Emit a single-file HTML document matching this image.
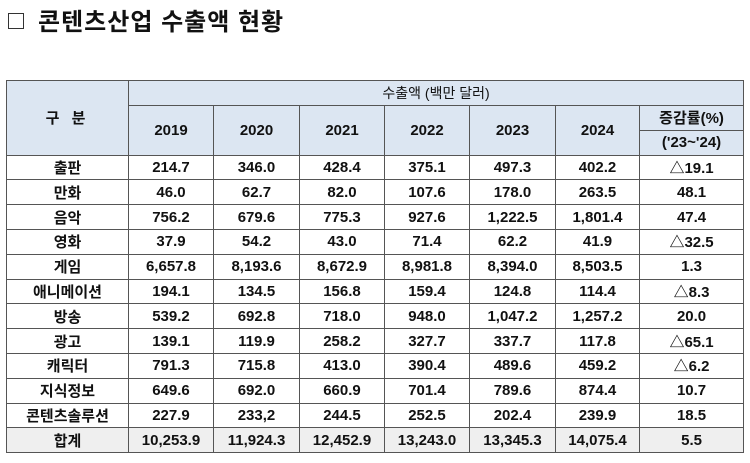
<!DOCTYPE html>
<html><head><meta charset="utf-8"><style>
body{margin:0;width:750px;height:463px;background:#fff;font-family:"Liberation Sans","Noto Sans CJK KR",sans-serif;position:relative;overflow:hidden}
.title{position:absolute;left:8px;top:2px;font-size:24px;font-weight:bold;color:#111;letter-spacing:1px}
.box{display:inline-block;width:14px;height:14px;border:1.5px solid #333;margin-right:14px;vertical-align:1px}
table{position:absolute;left:6px;top:80px;border-collapse:collapse;table-layout:fixed;width:737px}
td{border:1.5px solid #555;text-align:center;font-weight:bold;font-size:15px;color:#111;padding:0;height:23.8px;white-space:nowrap}
.h{background:#dce6f2}
.t td{background:#efefef}
</style></head><body>
<div class="title"><span class="box"></span>콘텐츠산업 수출액 현황</div>
<table>
<colgroup><col style="width:122px"><col style="width:85px"><col style="width:86px"><col style="width:85px"><col style="width:85px"><col style="width:86px"><col style="width:84px"><col style="width:104px"></colgroup>
<tr style="height:25px"><td class="h" rowspan="3" style="letter-spacing:4px">구 분</td><td class="h" colspan="7" style="font-weight:normal;font-size:14px">수출액 (백만 달러)</td></tr>
<tr style="height:24px"><td class="h" rowspan="2">2019</td><td class="h" rowspan="2">2020</td><td class="h" rowspan="2">2021</td><td class="h" rowspan="2">2022</td><td class="h" rowspan="2">2023</td><td class="h" rowspan="2">2024</td><td class="h">증감률(%)</td></tr>
<tr style="height:20px"><td class="h">('23~'24)</td></tr>
<tr><td>출판</td><td>214.7</td><td>346.0</td><td>428.4</td><td>375.1</td><td>497.3</td><td>402.2</td><td>△19.1</td></tr>
<tr><td>만화</td><td>46.0</td><td>62.7</td><td>82.0</td><td>107.6</td><td>178.0</td><td>263.5</td><td>48.1</td></tr>
<tr><td>음악</td><td>756.2</td><td>679.6</td><td>775.3</td><td>927.6</td><td>1,222.5</td><td>1,801.4</td><td>47.4</td></tr>
<tr><td>영화</td><td>37.9</td><td>54.2</td><td>43.0</td><td>71.4</td><td>62.2</td><td>41.9</td><td>△32.5</td></tr>
<tr><td>게임</td><td>6,657.8</td><td>8,193.6</td><td>8,672.9</td><td>8,981.8</td><td>8,394.0</td><td>8,503.5</td><td>1.3</td></tr>
<tr><td>애니메이션</td><td>194.1</td><td>134.5</td><td>156.8</td><td>159.4</td><td>124.8</td><td>114.4</td><td>△8.3</td></tr>
<tr><td>방송</td><td>539.2</td><td>692.8</td><td>718.0</td><td>948.0</td><td>1,047.2</td><td>1,257.2</td><td>20.0</td></tr>
<tr><td>광고</td><td>139.1</td><td>119.9</td><td>258.2</td><td>327.7</td><td>337.7</td><td>117.8</td><td>△65.1</td></tr>
<tr><td>캐릭터</td><td>791.3</td><td>715.8</td><td>413.0</td><td>390.4</td><td>489.6</td><td>459.2</td><td>△6.2</td></tr>
<tr><td>지식정보</td><td>649.6</td><td>692.0</td><td>660.9</td><td>701.4</td><td>789.6</td><td>874.4</td><td>10.7</td></tr>
<tr><td>콘텐츠솔루션</td><td>227.9</td><td>233,2</td><td>244.5</td><td>252.5</td><td>202.4</td><td>239.9</td><td>18.5</td></tr>
<tr class="t"><td>합계</td><td>10,253.9</td><td>11,924.3</td><td>12,452.9</td><td>13,243.0</td><td>13,345.3</td><td>14,075.4</td><td>5.5</td></tr>
</table>
</body></html>
